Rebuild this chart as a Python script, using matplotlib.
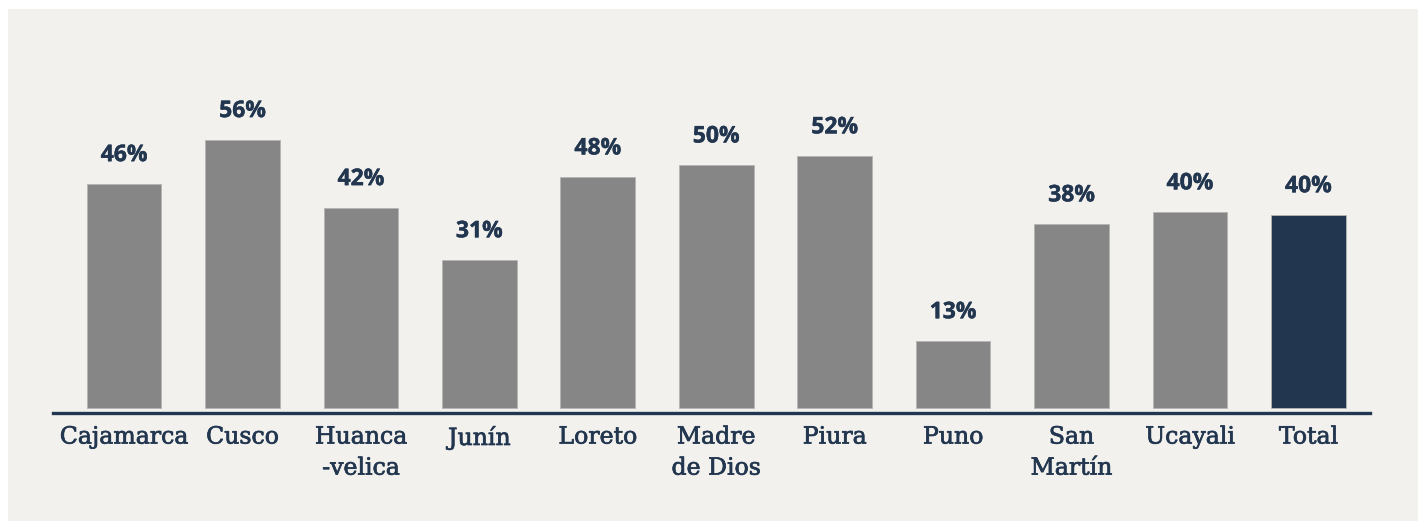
import matplotlib
matplotlib.use("Agg")
import matplotlib.pyplot as plt
import matplotlib.patheffects as pe
from matplotlib.patches import Rectangle

# data
regions = ["Cajamarca", "Cusco", "Huanca\n-velica", "Junín", "Loreto", "Madre\nde Dios",
           "Piura", "Puno", "San\nMartín", "Ucayali", "Total"]
values = [46.8, 56.0, 41.8, 30.9, 48.2, 50.7, 52.6, 14.0, 38.4, 40.9, 40.3]
labels = ["46%", "56%", "42%", "31%", "48%", "50%", "52%", "13%", "38%", "40%", "40%"]

navy = "#22364f"
grey = "#878686"
panel = "#f2f1ee"

W, H = 1425, 531
fig = plt.figure(figsize=(W / 100, H / 100), dpi=100, facecolor="white")
fig.patches.append(Rectangle((8 / W, 10 / H), 1410 / W, 512 / H, transform=fig.transFigure,
                             facecolor=panel, edgecolor="none", zorder=-5))

# axes placed in pixel terms
left, right, bottom, top = 53, 1370, 413, 100
ax = fig.add_axes([left / W, (H - bottom) / H, (right - left) / W, (bottom - top) / H])
ax.set_zorder(2)
ax.set_facecolor("none")

x = range(len(regions))
colors = [grey] * (len(regions) - 1) + [navy]
bars = ax.bar(x, values, width=0.63, color=colors, edgecolor="#b5b4b2", linewidth=0.6)

for b, lab in zip(bars, labels):
    ax.annotate(lab, (b.get_x() + b.get_width() / 2, b.get_height()),
                xytext=(0, 12), textcoords="offset points", ha="center", va="bottom",
                fontsize=16.5, color=navy, family="Open Sans", fontweight="bold",
                path_effects=[pe.withStroke(linewidth=0.3, foreground=navy)])

ax.set_xlim(-0.6, 10.52)
ax.set_ylim(-1.05, 64.3)
ax.set_xticks(list(x))
ax.set_xticklabels(regions, fontsize=17, color=navy, family="DejaVu Serif",
                   linespacing=1.45, va="top")
for t in ax.get_xticklabels():
    t.set_path_effects([pe.withStroke(linewidth=0.5, foreground=navy)])
ax.tick_params(axis="x", length=0, pad=9)
ax.set_yticks([])
for s in ["top", "right", "left"]:
    ax.spines[s].set_visible(False)
ax.spines["bottom"].set_color(navy)
ax.spines["bottom"].set_linewidth(2.4)

fig.savefig("out.png", dpi=100, facecolor="white")
